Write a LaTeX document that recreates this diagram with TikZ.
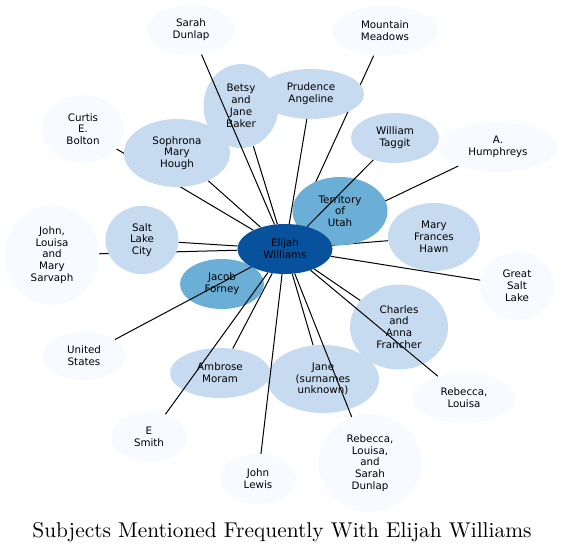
\documentclass[tikz,border=0pt]{standalone}
\usepackage{fontspec}
\newfontfamily\dejavu{DejaVu Sans}
\newfontfamily\titlefont{lmroman10-regular.otf}
\usetikzlibrary{shapes.geometric,backgrounds}
\definecolor{pale}{HTML}{F7FBFF}
\definecolor{light}{HTML}{C6DBEF}
\definecolor{mid}{HTML}{6BAED6}
\definecolor{dark}{HTML}{08519C}

\begin{document}
\begin{tikzpicture} [x=1pt, y=-1pt]
    \tikzstyle{every node}=[align = center, font=\dejavu\fontsize{10.3}{11.8}\selectfont]
    \tikzstyle{subj} = [ellipse, inner sep=0pt, draw=none]
    \tikzstyle{paleS} = [subj, fill=pale]
    \tikzstyle{lightS} = [subj, fill=light]
    \tikzstyle{midS} = [subj, fill=mid]
    \tikzstyle{link} = [line width=1pt, black]
    \useasboundingbox (0,0) rectangle (563,551);
    % subjects
    \node [paleS, minimum width=88, minimum height=50] (sarah) at (191,30) {Sarah\\Dunlap};
    \node [paleS, minimum width=106, minimum height=50] (meadows) at (385,31) {Mountain\\Meadows};
    \node [lightS, minimum width=75, minimum height=84] (betsy) at (241,106) {Betsy\\and\\Jane\\Baker};
    \node [lightS, minimum width=106, minimum height=50] (prudence) at (311,94) {Prudence\\Angeline};
    \node [paleS, minimum width=82, minimum height=68] (curtis) at (83,129) {Curtis\\E.\\Bolton};
    \node [lightS, minimum width=106, minimum height=68] (sophrona) at (177,153) {Sophrona\\Mary\\Hough};
    \node [lightS, minimum width=88, minimum height=50] (taggit) at (395,138) {William\\Taggit};
    \node [paleS, minimum width=120, minimum height=50] (humphreys) at (498,147) {A.\\Humphreys};
    \node [midS, minimum width=95, minimum height=68] (utah) at (340,211) {Territory\\of\\Utah};
    \node [lightS, minimum width=92, minimum height=68] (hawn) at (434,237) {Mary\\Frances\\Hawn};
    \node [paleS, minimum width=94, minimum height=100] (sarvaph) at (52,255) {John,\\Louisa\\and\\Mary\\Sarvaph};
    \node [lightS, minimum width=73, minimum height=68] (slc) at (142,240) {Salt\\Lake\\City};
    \node [paleS, minimum width=74, minimum height=68] (gsl) at (517,286) {Great\\Salt\\Lake};
    \node [midS, minimum width=84, minimum height=50] (forney) at (222,284) {Jacob\\Forney};
    \node [lightS, minimum width=98, minimum height=85] (francher) at (399,327) {Charles\\and\\Anna\\Francher};
    \node [paleS, minimum width=84, minimum height=48] (us) at (84,356) {United\\States};
    \node [lightS, minimum width=100, minimum height=50] (moram) at (220,373) {Ambrose\\Moram};
    \node [lightS, minimum width=112, minimum height=68] (jane) at (323,379) {Jane\\(surnames\\unknown)};
    \node [paleS, minimum width=103, minimum height=50] (rebecca) at (464,398) {Rebecca,\\Louisa};
    \node [paleS, minimum width=76, minimum height=50] (smith) at (149,437) {E\\Smith};
    \node [paleS, minimum width=76, minimum height=50] (lewis) at (258,479) {John\\Lewis};
    \node [paleS, minimum width=103, minimum height=98] (dunlaps) at (370,463) {Rebecca,\\Louisa,\\and\\Sarah\\Dunlap};
    \node [subj, fill=dark, minimum width=95, minimum height=50] (elijah) at (285,249) {Elijah\\Williams};
    % links hidden under the subjects
    \begin{pgfonlayer}{background}
        \foreach \s in {curtis, sarvaph, meadows, humphreys, betsy, prudence, sophrona, utah, hawn, slc, gsl, forney, francher, moram, jane}
            \draw [link] (elijah) -- (\s);
    \end{pgfonlayer}
    % links drawn across the subjects
    \foreach \s in {sarah, taggit, us, smith, dunlaps, rebecca, lewis}
        \draw [link] (elijah) -- (\s);
    \node [font=\titlefont\fontsize{21.4}{25}\selectfont, anchor=base] (title) at (282,537) {Subjects Mentioned Frequently With Elijah Williams};
\end{tikzpicture}
\end{document}
